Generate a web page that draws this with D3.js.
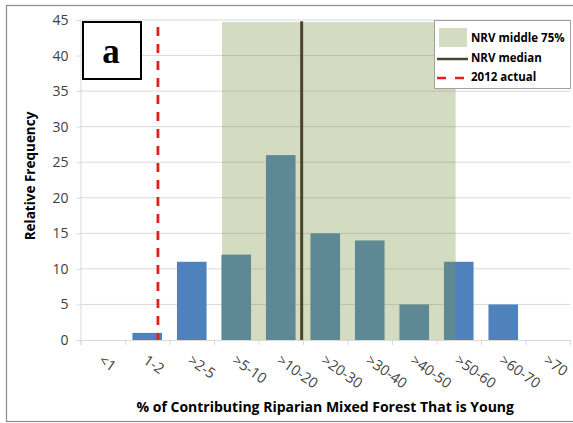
<!DOCTYPE html>
<html><head><meta charset="utf-8">
<script src="https://cdn.jsdelivr.net/npm/d3@7"></script>
<style>body{margin:0;background:#fff}svg{display:block;font-family:"Open Sans",sans-serif}</style>
</head><body>
<script>
const categories = ["<1","1-2",">2-5",">5-10",">10-20",">20-30",">30-40",">40-50",">50-60",">60-70",">70"];
const frequency  = [0, 1, 11, 12, 26, 15, 14, 5, 11, 5, 0];
const yTicks = [0,5,10,15,20,25,30,35,40,45];
// reference lines, in category-index units (0 = left edge of first category)
const nrvMiddle = [3.18, 8.43];
const nrvTop = 44.7;
const nrvMedian = 4.97;
const actual2012 = 1.74;
const actualTop = 44;
const legendItems = ["NRV middle 75%","NRV median","2012 actual"];

const W = 573, H = 423;
const m = {left:80.5, right:3, top:20, bottom:83};
const svg = d3.select("body").append("svg").attr("width",W).attr("height",H);

// outer border
svg.append("rect").attr("x",6.5).attr("y",5.5).attr("width",W+10).attr("height",416)
  .attr("fill","#fff").attr("stroke","#8c8c8c").attr("stroke-width",1.2);

const x = d3.scaleBand().domain(categories).range([m.left, W-m.right]).paddingInner(0.335).paddingOuter(0.1675);
const xl = d3.scaleLinear().domain([0, categories.length]).range([m.left, W-m.right]);
const y = d3.scaleLinear().domain([0,45]).range([H-m.bottom, m.top]);

// gridlines
svg.append("g").selectAll("line").data(yTicks.filter(d=>d>0)).join("line")
  .attr("x1",m.left).attr("x2",W-m.right).attr("y1",d=>y(d)).attr("y2",d=>y(d))
  .attr("stroke","#d9d9d9").attr("stroke-width",1);

// y axis
const ya = svg.append("g").attr("transform",`translate(${m.left},0)`)
  .call(d3.axisLeft(y).tickValues(yTicks).tickSize(4).tickPadding(8));
ya.select(".domain").attr("stroke","#d9d9d9");
ya.selectAll(".tick line").attr("stroke","#d9d9d9");
ya.selectAll("text").style("font-size","14px").style("font-family","'Open Sans',sans-serif").attr("fill","#404040");

// bars
svg.append("g").selectAll("rect").data(frequency).join("rect")
  .attr("x",(d,i)=>x(categories[i])).attr("width",x.bandwidth())
  .attr("y",d=>y(d)).attr("height",d=>y(0)-y(d)).attr("fill","#4f81bd");

// NRV middle 75% overlay
svg.append("rect").attr("x",xl(nrvMiddle[0])).attr("width",xl(nrvMiddle[1])-xl(nrvMiddle[0]))
  .attr("y",y(nrvTop)).attr("height",y(0)-y(nrvTop))
  .attr("fill","rgb(124,150,67)").attr("fill-opacity",0.335);

// x axis
const xa = svg.append("g").attr("transform",`translate(0,${y(0)})`)
  .call(d3.axisBottom(xl).tickValues(d3.range(0,categories.length+1)).tickSize(5).tickFormat(""));
xa.select(".domain").attr("stroke","#d9d9d9");
xa.selectAll(".tick line").attr("stroke","#d9d9d9");

// x labels
svg.append("g").selectAll("text").data(categories).join("text")
  .attr("transform",d=>`translate(${x(d)+x.bandwidth()/2+1},${y(0)+14}) rotate(35)`)
  .attr("dy","0.71em").style("font-size","14.5px").attr("fill","#404040").text(d=>d);

// median line
svg.append("line").attr("x1",xl(nrvMedian)).attr("x2",xl(nrvMedian)).attr("y1",y(nrvTop)-1).attr("y2",y(0))
  .attr("stroke","#4b4530").attr("stroke-width",3);

// 2012 actual
svg.append("line").attr("x1",xl(actual2012)).attr("x2",xl(actual2012)).attr("y1",y(actualTop)).attr("y2",y(0))
  .attr("stroke","#e0201b").attr("stroke-width",2.8).attr("stroke-dasharray","9,8");

// "a" box
svg.append("rect").attr("x",83).attr("y",22).attr("width",58).attr("height",57)
  .attr("fill","#fff").attr("stroke","#000").attr("stroke-width",2);
svg.append("text").attr("x",111).attr("y",63).attr("text-anchor","middle")
  .style("font-family","'Liberation Serif',serif").style("font-weight","bold").style("font-size","35px").text("a");

// legend
const lg = svg.append("g");
lg.append("rect").attr("x",434.5).attr("y",20.5).attr("width",136).attr("height",68)
  .attr("fill","#fff").attr("stroke","#a0a0a0");
lg.append("rect").attr("x",439).attr("y",28).attr("width",28).attr("height",19).attr("fill","#d3dcc0");
lg.append("line").attr("x1",437).attr("x2",468).attr("y1",59).attr("y2",59).attr("stroke","#4b4530").attr("stroke-width",2.5);
lg.append("line").attr("x1",437).attr("x2",468).attr("y1",78).attr("y2",78).attr("stroke","#e0201b").attr("stroke-width",2.5).attr("stroke-dasharray","9,9");
lg.selectAll("text.lt").data(legendItems).join("text").attr("class","lt")
  .attr("x",471).attr("y",(d,i)=>42+i*19.5).style("font-size","11.5px").style("font-weight","bold").attr("fill","#000").text(d=>d);

// axis titles
svg.append("text").attr("transform",`translate(35,176) rotate(-90)`).attr("text-anchor","middle")
  .style("font-size","13.5px").style("font-weight","bold").attr("fill","#000").text("Relative Frequency");
svg.append("text").attr("x",(m.left+W-m.right)/2).attr("y",412).attr("text-anchor","middle")
  .style("font-size","14px").style("font-weight","bold").attr("fill","#000").text("% of Contributing Riparian Mixed Forest That is Young");
</script>
</body></html>
